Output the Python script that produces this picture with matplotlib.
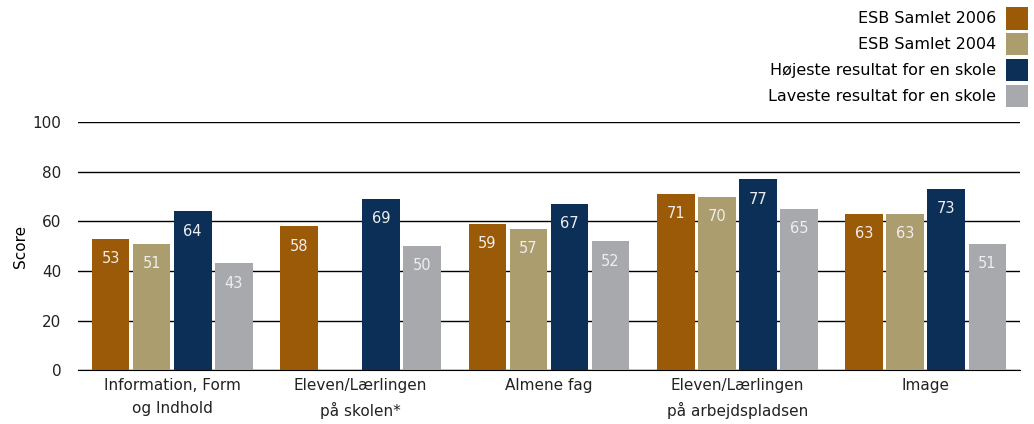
import numpy as np
import matplotlib.pyplot as plt

categories = ["Information, Form\nog Indhold", "Eleven/Lærlingen\npå skolen*", "Almene fag",
              "Eleven/Lærlingen\npå arbejdspladsen", "Image"]
series_names = ["ESB Samlet 2006", "ESB Samlet 2004",
                "Højeste resultat for en skole", "Laveste resultat for en skole"]
esb_2006 = [53, 58, 59, 71, 63]
esb_2004 = [51, None, 57, 70, 63]
hoejeste = [64, 69, 67, 77, 73]
laveste = [43, 50, 52, 65, 51]
colors = ["#9A5A07", "#AB9D6E", "#0C2F57", "#A8A9AD"]

plt.rcParams['font.family'] = 'DejaVu Sans'

fig = plt.figure(figsize=(10.34, 4.24), dpi=100)
ax = fig.add_axes([0.0754, 0.127, 0.911, 0.585])

x = np.arange(len(categories))
width = 0.2
step = 0.218
handles = []
for i, (vals, c) in enumerate(zip([esb_2006, esb_2004, hoejeste, laveste], colors)):
    xs = [xi + (i - 1.5) * step for xi, v in zip(x, vals) if v is not None]
    vs = [v for v in vals if v is not None]
    bars = ax.bar(xs, vs, width=width, color=c, zorder=3, label=series_names[i])
    handles.append(bars)
    for xx, v in zip(xs, vs):
        ax.text(xx, v - 8, str(v), ha='center', va='center', color='#EEEEEE', fontsize=10.5, zorder=4)

ax.set_xlim(-0.5, len(categories) - 0.5)
ax.set_ylim(0, 100)
ax.set_yticks(range(0, 101, 20))
ax.yaxis.grid(True, color='black', linewidth=1, zorder=0)
ax.set_axisbelow(True)
for s in ['top', 'right', 'left']:
    ax.spines[s].set_visible(False)
ax.spines['bottom'].set_color('black')
ax.tick_params(axis='both', length=0, labelsize=11, colors='#222222')
ax.tick_params(axis='y', pad=12)
ax.tick_params(axis='x', pad=6)
ax.set_xticks(x)
ax.set_xticklabels(categories, linespacing=1.6)
ax.set_ylabel("Score", fontsize=11, labelpad=3)

fig.legend(handles=handles, loc='upper right', bbox_to_anchor=(1.005, 1.01), frameon=False,
           markerfirst=False, fontsize=11.5, handlelength=1.4, handleheight=1.8,
           labelspacing=0.21, handletextpad=0.6, borderaxespad=0.3)

fig.savefig("out.png", dpi=100)
